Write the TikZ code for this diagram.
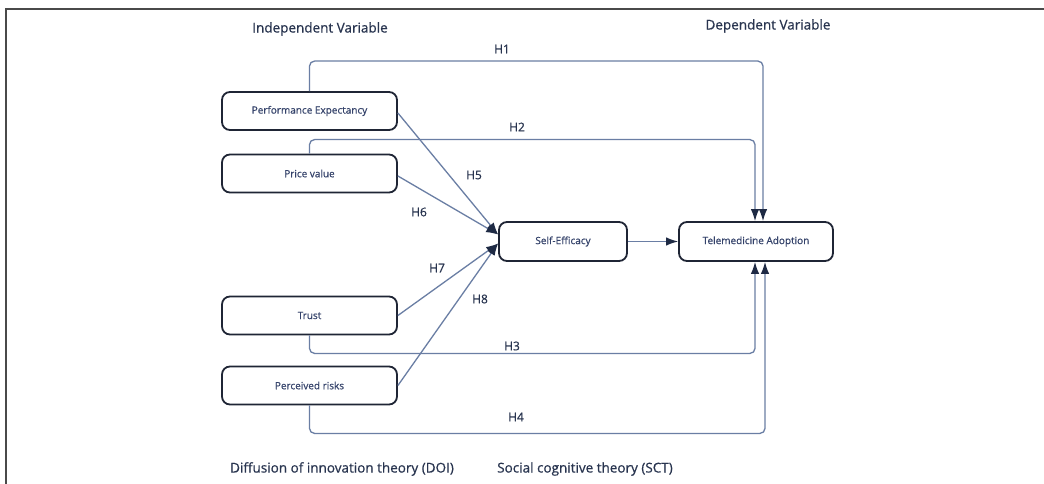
\documentclass[tikz,border=0pt]{standalone}
\usepackage{fontspec}
\setmainfont{Open Sans}
\newfontfamily\medfont{Open Sans}[RawFeature={embolden=0.6}]
\usetikzlibrary{arrows.meta}
\definecolor{boxc}{HTML}{1F2535}
\definecolor{boxtext}{HTML}{34426A}
\definecolor{labc}{HTML}{28344F}
\definecolor{linec}{HTML}{6A7EA4}
\definecolor{arrowc}{HTML}{1E2A44}
\definecolor{framec}{HTML}{4A4A4A}
\tikzset{
  box/.style={draw=boxc, line width=1.8pt, rounded corners=8pt, minimum height=38pt,
    inner sep=0pt, text=boxtext, font=\medfont\fontsize{10}{12}\selectfont, fill=white},
  conn/.style={draw=linec, line width=1.3pt, rounded corners=5pt,
    -{Latex[length=12pt,width=8.5pt,color=arrowc]}},
  hlab/.style={text=labc, font=\medfont\fontsize{12}{14}\selectfont, inner sep=0pt},
  title/.style={text=labc, font=\medfont\fontsize{13.5}{16}\selectfont, inner sep=0pt},
}
\begin{document}
\begin{tikzpicture}[x=1pt,y=-1pt]
\useasboundingbox (0,0) rectangle (1044,484);
\fill[white] (0,0) rectangle (1044,484);
\draw[framec, line width=1.8pt] (6,484) -- (6,9) -- (1044,9);

% titles
\node[title] (tiv) at (320,29) {Independent Variable};
\node[title] (tdv) at (768,26) {Dependent Variable};
\node[title] (tdoi) at (342,469) {Diffusion of innovation theory (DOI)};
\node[title] (tsct) at (585,469) {Social cognitive theory (SCT)};

% boxes
\node[box, minimum width=175pt] (pe) at (309.5,111) {Performance Expectancy};
\node[box, minimum width=175pt] (pv) at (309.5,173.5) {Price value};
\node[box, minimum width=175pt] (tr) at (309.5,315.5) {Trust};
\node[box, minimum width=175pt] (pr) at (309.5,385.5) {Perceived risks};
\node[box, minimum width=128pt, minimum height=39pt] (se) at (563,241.5) {Self-Efficacy};
\node[box, minimum width=154pt, minimum height=39pt] (ta) at (756,241.5) {Telemedicine Adoption};

% direct paths
\draw[conn] (pe.north) -- ++(0,-30) -| ([xshift=7pt]ta.north);
\draw[conn] (pv.north) -- ++(0,-14) -| ([xshift=-1pt]ta.north);
\draw[conn] (tr.south) -- ++(0,18) -| ([xshift=-1pt]ta.south);
\draw[conn] (pr.south) -- ++(0,28) -| ([xshift=9pt]ta.south);

% mediated paths
\draw[conn] ([yshift=-2pt]pe.east) -- ([yshift=7pt]se.west);
\draw[conn] ([yshift=-2.5pt]pv.east) -- ([yshift=7pt]se.west);
\draw[conn] (tr.east) -- ([yshift=-2pt]se.west);
\draw[conn] (pr.east) -- ([yshift=-2pt]se.west);
\draw[conn] (se.east) -- (ta.west);

% labels
\node[hlab] (h1) at (502,49) {H1};
\node[hlab] (h2) at (517,127) {H2};
\node[hlab] (h3) at (512,346) {H3};
\node[hlab] (h4) at (516,417) {H4};
\node[hlab] (h5) at (474,175) {H5};
\node[hlab] (h6) at (419,212) {H6};
\node[hlab] (h7) at (437,268) {H7};
\node[hlab] (h8) at (480,299) {H8};
\end{tikzpicture}
\end{document}
